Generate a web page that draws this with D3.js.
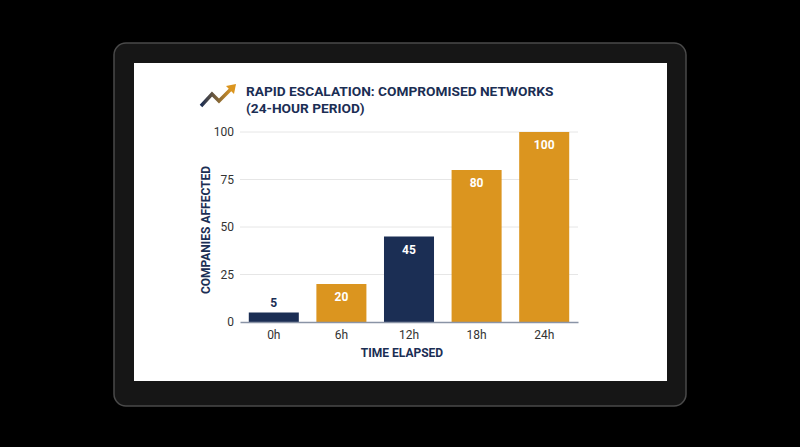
<!DOCTYPE html>
<html><head><meta charset="utf-8">
<script src="https://cdn.jsdelivr.net/npm/d3@7"></script>
<style>body{margin:0;background:#000;font-family:Roboto,sans-serif}</style>
</head><body><div id="chart"></div>
<script>
const categories = ["0h", "6h", "12h", "18h", "24h"];
const values = [5, 20, 45, 80, 100];
const barColors = ["#1b2e54", "#db951f", "#1b2e54", "#db951f", "#db951f"];
const yTicks = [0, 25, 50, 75, 100];

const W = 800, H = 447;
const svg = d3.select("#chart").append("svg").attr("width", W).attr("height", H);
svg.append("rect").attr("width", W).attr("height", H).attr("fill", "#000");

// tablet frame
svg.append("rect").attr("x", 114).attr("y", 43).attr("width", 572).attr("height", 363)
  .attr("rx", 12).attr("fill", "#161616").attr("stroke", "#4a4a4a").attr("stroke-width", 1.5);
svg.append("rect").attr("x", 134).attr("y", 63).attr("width", 533).attr("height", 318).attr("fill", "#fff");

// icon
const defs = svg.append("defs");
const grad = defs.append("linearGradient").attr("id", "ig");
grad.append("stop").attr("offset", "0%").attr("stop-color", "#1b2e54");
grad.append("stop").attr("offset", "100%").attr("stop-color", "#db951f");
svg.append("path").attr("d", "M201,106 L212,94 L219,101 L232,88")
  .attr("fill", "none").attr("stroke", "url(#ig)").attr("stroke-width", 3.5);
svg.append("path").attr("d", "M226,86 L236,84 L234,94 Z").attr("fill", "#db951f");

const title = svg.append("text").attr("x", 246).attr("fill", "#1b2e54")
  .attr("font-size", 13.7).attr("font-weight", 700);
title.append("tspan").attr("x", 246).attr("y", 96).text("RAPID ESCALATION: COMPROMISED NETWORKS");
title.append("tspan").attr("x", 246).attr("y", 113).text("(24-HOUR PERIOD)");

const x = d3.scaleBand().domain(categories).range([240, 578]).paddingInner(0.26).paddingOuter(0.13);
const y = d3.scaleLinear().domain([0, 100]).range([322, 132]);

const g = svg.append("g");
g.append("g").selectAll("line").data(yTicks.slice(1)).join("line")
  .attr("x1", 240).attr("x2", 578).attr("y1", d => y(d)).attr("y2", d => y(d))
  .attr("stroke", "#e6e6e6");

g.selectAll("rect.bar").data(values).join("rect").attr("class", "bar")
  .attr("x", (d, i) => x(categories[i])).attr("width", x.bandwidth())
  .attr("y", d => y(d)).attr("height", d => y(0) - y(d)).attr("fill", (d, i) => barColors[i]);

g.selectAll("text.val").data(values).join("text").attr("class", "val")
  .attr("x", (d, i) => x(categories[i]) + x.bandwidth() / 2)
  .attr("y", d => d < 10 ? y(d) - 6 : y(d) + 17)
  .attr("text-anchor", "middle").attr("font-size", 12).attr("font-weight", 700)
  .attr("fill", d => d < 10 ? "#1b2e54" : "#fff").text(d => d);

const yAxis = g.append("g").attr("transform", "translate(240,0)")
  .call(d3.axisLeft(y).tickValues(yTicks).tickSize(0).tickPadding(6));
yAxis.select(".domain").remove();
yAxis.selectAll("text").attr("font-size", 12).attr("fill", "#333").attr("font-family", "Roboto");

const xAxis = g.append("g").attr("transform", "translate(0,322)")
  .call(d3.axisBottom(x).tickSize(0).tickPadding(8));
xAxis.select(".domain").attr("stroke", "#8a94a6").attr("stroke-width", 1.5);
xAxis.selectAll("text").attr("font-size", 12).attr("fill", "#333").attr("font-family", "Roboto");

svg.append("text").attr("x", 402).attr("y", 357).attr("text-anchor", "middle")
  .attr("font-size", 12).attr("font-weight", 700).attr("fill", "#1b2e54").text("TIME ELAPSED");
svg.append("text").attr("transform", "translate(210,230) rotate(-90)").attr("text-anchor", "middle")
  .attr("font-size", 12).attr("font-weight", 700).attr("fill", "#1b2e54").text("COMPANIES AFFECTED");
</script></body></html>
